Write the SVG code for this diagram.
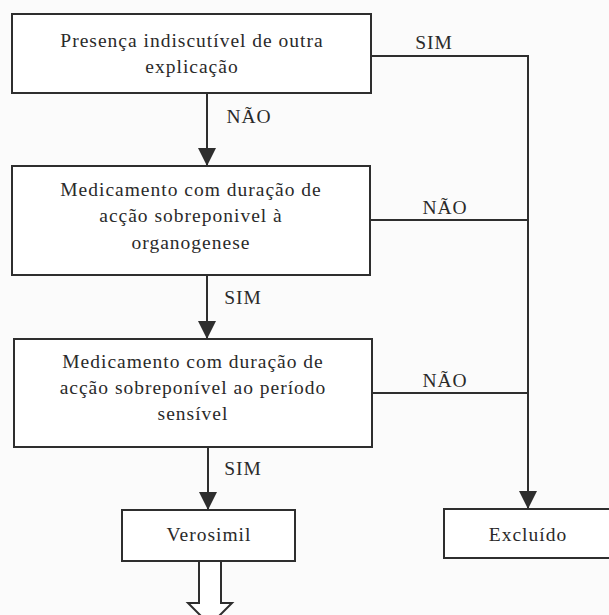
<svg xmlns="http://www.w3.org/2000/svg" width="609" height="615" viewBox="0 0 609 615">
  <style>
    .box { fill: #ffffff; stroke: #2e2e2e; stroke-width: 2; }
    .wire { fill: none; stroke: #2e2e2e; stroke-width: 2; }
    .lbl { font-family: "Liberation Serif", "Times New Roman", serif; font-size: 19.5px; fill: #2a2a2a; text-anchor: middle; letter-spacing: 1px; }
    .hollow { fill: #ffffff; stroke: #2e2e2e; stroke-width: 2; stroke-linejoin: miter; }
  </style>
  <defs>
    <marker id="head" markerWidth="18" markerHeight="18" viewBox="0 0 18 18" refX="18" refY="9" orient="auto" markerUnits="userSpaceOnUse">
      <path d="M0,0 L18,9 L0,18 Z" fill="#2e2e2e"/>
    </marker>
  </defs>
  <rect width="609" height="615" fill="#fbfbfb"/>

  <g id="connectors">
    <!-- main column -->
    <line class="wire" x1="207" y1="93" x2="207" y2="166" marker-end="url(#head)"/>
    <line class="wire" x1="207" y1="275" x2="207" y2="339" marker-end="url(#head)"/>
    <line class="wire" x1="208" y1="447" x2="208" y2="510" marker-end="url(#head)"/>
    <!-- right-hand exit bus -->
    <polyline class="wire" points="371,56 528,56 528,509" marker-end="url(#head)"/>
    <line class="wire" x1="370" y1="220" x2="528" y2="220"/>
    <line class="wire" x1="372" y1="393" x2="528" y2="393"/>
    <!-- labels -->
    <text class="lbl" x="249" y="123">NÃO</text>
    <text class="lbl" x="434" y="49">SIM</text>
    <text class="lbl" x="445" y="214">NÃO</text>
    <text class="lbl" x="243" y="304">SIM</text>
    <text class="lbl" x="445" y="387">NÃO</text>
    <text class="lbl" x="243" y="475">SIM</text>
    <!-- open outlet arrow -->
    <path class="hollow" d="M199,561 L199,603 L188,603 L210,625 L232,603 L221,603 L221,561"/>
  </g>

  <g id="q1">
    <rect class="box" x="12" y="14" width="359" height="79"/>
    <text class="lbl" x="192" y="47">Presença indiscutível de outra</text>
    <text class="lbl" x="192" y="73">explicação</text>
  </g>

  <g id="q2">
    <rect class="box" x="12" y="166" width="358" height="109"/>
    <text class="lbl" x="191" y="196">Medicamento com duração de</text>
    <text class="lbl" x="191" y="222">acção sobreponivel à</text>
    <text class="lbl" x="191" y="249">organogenese</text>
  </g>

  <g id="q3">
    <rect class="box" x="14" y="339" width="358" height="108"/>
    <text class="lbl" x="193" y="368">Medicamento com duração de</text>
    <text class="lbl" x="193" y="394">acção sobreponível ao período</text>
    <text class="lbl" x="193" y="420">sensível</text>
  </g>

  <g id="verosimil">
    <rect class="box" x="122" y="510" width="173" height="51"/>
    <text class="lbl" x="209" y="541">Verosimil</text>
  </g>

  <g id="excluido">
    <rect class="box" x="444" y="509" width="170" height="49"/>
    <text class="lbl" x="528" y="541">Excluído</text>
  </g>
</svg>
